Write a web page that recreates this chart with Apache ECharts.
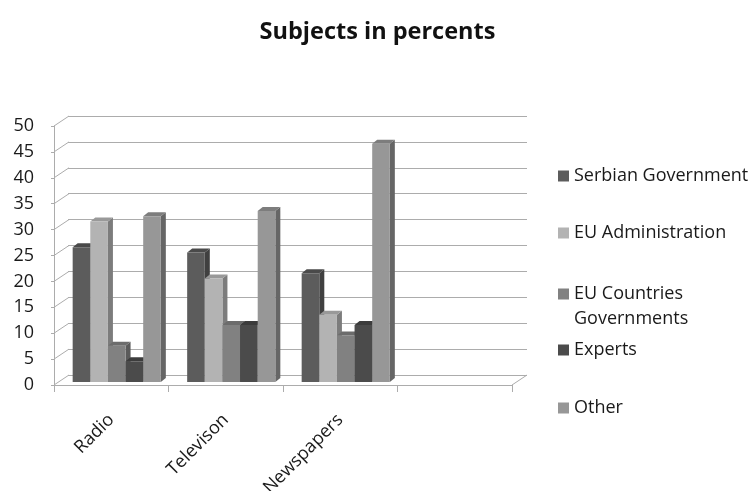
<!DOCTYPE html>
<html>
<head>
<meta charset="utf-8">
<script src="https://cdn.jsdelivr.net/npm/echarts@6/dist/echarts.min.js"></script>
<style>html,body{margin:0;padding:0;background:#fff;}#c{width:755px;height:491px;}</style>
</head>
<body>
<div id="c"></div>
<script>
// ---- data ----
const categories = ['Radio', 'Televison', 'Newspapers', ''];
const serbianGovernment = [26, 25, 21, null];
const euAdministration = [31, 20, 13, null];
const euCountriesGovernments = [7, 11, 9, null];
const experts = [4, 11, 11, null];
const other = [32, 33, 46, null];
const seriesNames = ['Serbian Government', 'EU Administration', 'EU Countries Governments', 'Experts', 'Other'];
const yTicks = [0, 5, 10, 15, 20, 25, 30, 35, 40, 45, 50];

// ---- style ----
const FONT = 'Open Sans';
const colors = ['#5c5c5c', '#b3b3b3', '#818181', '#4b4b4b', '#979797'];
const sideColors = ['#404040', '#7c7c7c', '#5a5a5a', '#333333', '#666666'];
const topColors = ['#4a4a4a', '#999999', '#6c6c6c', '#3c3c3c', '#7d7d7d'];
const GROUP_FRAC = 0.77, SHIFT_X = 5.5, SHIFT_Y = -3, DX = 5, DY = 4;
const WALL_DX = 15, WALL_DY = 10;

const chart = echarts.init(document.getElementById('c'), null, {renderer: 'canvas'});

function barRender(sIdx) {
  return function (params, api) {
    const v = api.value(1);
    if (v == null || isNaN(v)) return null;
    const cat = api.value(0);
    const base = api.coord([cat, 0]);
    const top = api.coord([cat, v]);
    const bw = api.size([1, 0])[0];
    const gw = bw * GROUP_FRAC;
    const w = gw / 5;
    const x = base[0] - gw / 2 + sIdx * w + SHIFT_X;
    const yb = base[1] + SHIFT_Y;
    const yt = top[1] + SHIFT_Y;
    return {
      type: 'group',
      children: [
        {type: 'polygon', shape: {points: [[x + w, yt], [x + w + DX, yt - DY], [x + w + DX, yb - DY], [x + w, yb]]}, style: {fill: sideColors[sIdx]}},
        {type: 'polygon', shape: {points: [[x, yt], [x + DX, yt - DY], [x + w + DX, yt - DY], [x + w, yt]]}, style: {fill: topColors[sIdx]}},
        {type: 'rect', shape: {x: x, y: yt, width: w, height: yb - yt}, style: {fill: colors[sIdx]}}
      ]
    };
  };
}

const valueArrays = [serbianGovernment, euAdministration, euCountriesGovernments, experts, other];
const barSeries = valueArrays.map(function (arr, i) {
  return {
    type: 'custom',
    name: seriesNames[i],
    xAxisIndex: 1, yAxisIndex: 1,
    itemStyle: {color: colors[i]},
    renderItem: barRender(i),
    encode: {x: 0, y: 1},
    data: arr.map(function (v, k) { return [k, v]; }),
    z: 3
  };
});

const wallSeries = {
  type: 'custom',
  xAxisIndex: 1, yAxisIndex: 1,
  silent: true,
  renderItem: function (params, api) {
    const v = api.value(1);
    const p = api.coord([0, v]);
    const cs = params.coordSys;
    const children = [{type: 'line', shape: {x1: cs.x, y1: p[1], x2: cs.x + WALL_DX, y2: p[1] - WALL_DY}, style: {stroke: '#acacac', lineWidth: 1}}];
    if (v === 0) {
      children.push({type: 'line', shape: {x1: cs.x + cs.width, y1: p[1], x2: cs.x + cs.width + WALL_DX, y2: p[1] - WALL_DY}, style: {stroke: '#acacac', lineWidth: 1}});
    }
    return {type: 'group', children: children};
  },
  data: yTicks.map(function (t) { return [0, t]; }),
  z: 1
};

function legendAt(name, topPx, label) {
  return {
    data: [name], left: 553, top: topPx, orient: 'vertical',
    icon: 'rect', itemWidth: 11, itemHeight: 11,
    selectedMode: false,
    formatter: label ? function () { return label; } : undefined,
    textStyle: {fontFamily: FONT, fontSize: 18, color: '#1a1a1a', lineHeight: 20}
  };
}

chart.setOption({
  animation: false,
  backgroundColor: '#ffffff',
  title: {
    text: 'Subjects in percents', left: 'center', top: 15,
    textStyle: {fontFamily: FONT, fontSize: 23.5, fontWeight: 'bold', color: '#111'}
  },
  legend: [
    legendAt(seriesNames[0], 161),
    legendAt(seriesNames[1], 218),
    legendAt(seriesNames[2], 279, 'EU Countries'),
    legendAt(seriesNames[3], 335),
    legendAt(seriesNames[4], 393)
  ],
  graphic: [{
    type: 'text', left: 574, top: 310,
    style: {text: 'Governments', fontFamily: FONT, fontSize: 18, fill: '#1a1a1a'}
  }],
  grid: [
    {left: 68, top: 116, width: 459, height: 259, outerBoundsMode: 'none', containLabel: false},
    {left: 54, top: 126, width: 458, height: 259, outerBoundsMode: 'none', containLabel: false}
  ],
  xAxis: [
    {gridIndex: 0, type: 'category', data: categories, show: false},
    {
      gridIndex: 1, type: 'category', data: categories,
      axisLine: {show: true, lineStyle: {color: '#acacac', width: 1}},
      axisTick: {show: true, length: 7, lineStyle: {color: '#acacac'}},
      axisLabel: {rotate: 45, margin: 32, fontFamily: FONT, fontSize: 18, color: '#1a1a1a', interval: 0},
      splitLine: {show: false}
    }
  ],
  yAxis: [
    {
      gridIndex: 0, type: 'value', min: 0, max: 50, interval: 5,
      axisLine: {show: false}, axisTick: {show: false}, axisLabel: {show: false},
      splitLine: {show: true, lineStyle: {color: '#acacac', width: 1}}
    },
    {
      gridIndex: 1, type: 'value', min: 0, max: 50, interval: 5,
      axisLine: {show: true, lineStyle: {color: '#acacac', width: 1}},
      axisTick: {show: true, length: 3, lineStyle: {color: '#acacac'}},
      axisLabel: {margin: 20, fontFamily: FONT, fontSize: 18, color: '#1a1a1a'},
      splitLine: {show: false}
    }
  ],
  series: [wallSeries].concat(barSeries)
});
</script>
</body>
</html>
